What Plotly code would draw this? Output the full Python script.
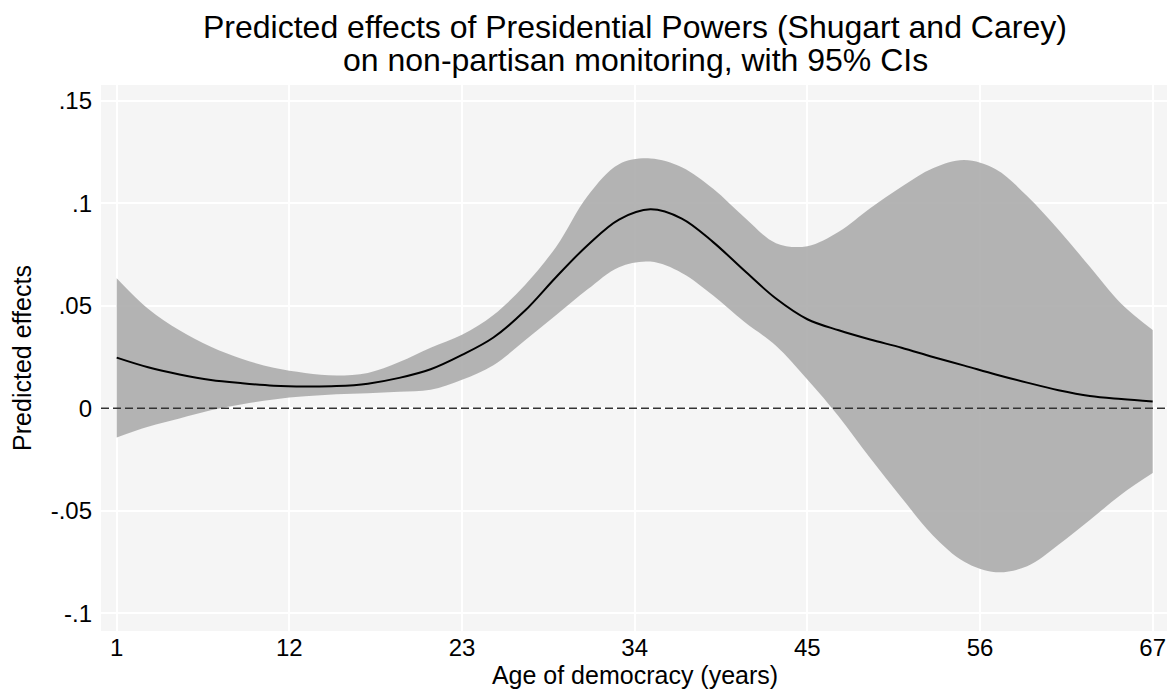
import plotly.graph_objects as go

age = [1, 3, 5, 7, 9, 11, 13, 15, 17, 19, 21, 23, 25, 27, 29, 31, 33, 35,
       37, 39, 41, 43, 45, 47, 49, 51, 53, 55, 57, 59, 61, 63, 65, 67]

effect = [0.0247, 0.0200, 0.0165, 0.0138, 0.0122, 0.0110, 0.0106, 0.0108,
          0.0120, 0.0148, 0.0190, 0.0260, 0.0345, 0.0475, 0.0640, 0.0795,
          0.0920, 0.0970, 0.0925, 0.0810, 0.0670, 0.0535, 0.0434, 0.0380,
          0.0335, 0.0295, 0.0250, 0.0208, 0.0165, 0.0125, 0.0088, 0.0060,
          0.0045, 0.0033]

upper = [0.0634, 0.0485, 0.0380, 0.0300, 0.0240, 0.0197, 0.0172, 0.0160,
         0.0172, 0.0225, 0.0295, 0.0358, 0.0455, 0.0600, 0.0788, 0.1035,
         0.1190, 0.1218, 0.1175, 0.1070, 0.0930, 0.0805, 0.0790, 0.0860,
         0.0975, 0.1080, 0.1170, 0.1210, 0.1165, 0.1035, 0.0870, 0.0690,
         0.0510, 0.0382]

lower = [-0.0142, -0.0090, -0.0050, -0.0010, 0.0020, 0.0043, 0.0058, 0.0068,
         0.0073, 0.0080, 0.0090, 0.0139, 0.0210, 0.0330, 0.0455, 0.0580,
         0.0688, 0.0715, 0.0660, 0.0550, 0.0420, 0.0305, 0.0140, -0.0040,
         -0.0243, -0.0436, -0.0620, -0.0748, -0.0799, -0.0770, -0.0665,
         -0.0545, -0.0420, -0.0316]

x_ticks = [1, 12, 23, 34, 45, 56, 67]
y_ticks = [0.15, 0.1, 0.05, 0, -0.05, -0.1]
y_tick_labels = [".15", ".1", ".05", "0", "-.05", "-.1"]

title_line1 = "Predicted effects of Presidential Powers (Shugart and Carey)"
title_line2 = "on non-partisan monitoring, with 95% CIs"

FONT = "Liberation Sans, Arial, sans-serif"

fig = go.Figure()
fig.add_trace(go.Scatter(x=age, y=lower, mode="lines", line=dict(width=0, shape="spline"),
                         showlegend=False, hoverinfo="skip"))
fig.add_trace(go.Scatter(x=age, y=upper, mode="lines", line=dict(width=0, shape="spline"),
                         fill="tonexty", fillcolor="rgba(172,172,172,0.9)",
                         showlegend=False, hoverinfo="skip"))
fig.add_trace(go.Scatter(x=age, y=effect, mode="lines",
                         line=dict(color="black", width=2, shape="spline"),
                         showlegend=False))

fig.add_hline(y=0, line=dict(color="#333333", width=1.5, dash="8px,4px"), layer="above")

fig.add_annotation(text=title_line1, xref="paper", yref="paper", x=0.5, y=1.1062,
                   xanchor="center", yanchor="middle", showarrow=False,
                   font=dict(family=FONT, size=32, color="black"))
fig.add_annotation(text=title_line2, xref="paper", yref="paper", x=0.5, y=1.0467,
                   xanchor="center", yanchor="middle", showarrow=False,
                   font=dict(family=FONT, size=32, color="black"))

fig.update_layout(
    width=1167, height=681,
    margin=dict(l=93, r=6, t=77, b=58),
    paper_bgcolor="white",
    plot_bgcolor="#f5f5f5",
    font=dict(family=FONT, color="black", size=24),
    xaxis=dict(
        range=[0, 68.04], tickmode="array", tickvals=x_ticks,
        showgrid=True, gridcolor="white", gridwidth=1.5, zeroline=False,
        showline=False, ticks="", tickfont=dict(size=24),
        title=dict(text="Age of democracy (years)", font=dict(size=25), standoff=0),
    ),
    yaxis=dict(
        range=[-0.1086, 0.1576], tickmode="array", tickvals=y_ticks, ticktext=y_tick_labels,
        showgrid=True, gridcolor="white", gridwidth=1.5, zeroline=False,
        showline=False, ticks="", tickfont=dict(size=24), ticklabelstandoff=8,
        title=dict(text="Predicted effects", font=dict(size=25), standoff=12),
    ),
)

fig.write_html("out.html")
